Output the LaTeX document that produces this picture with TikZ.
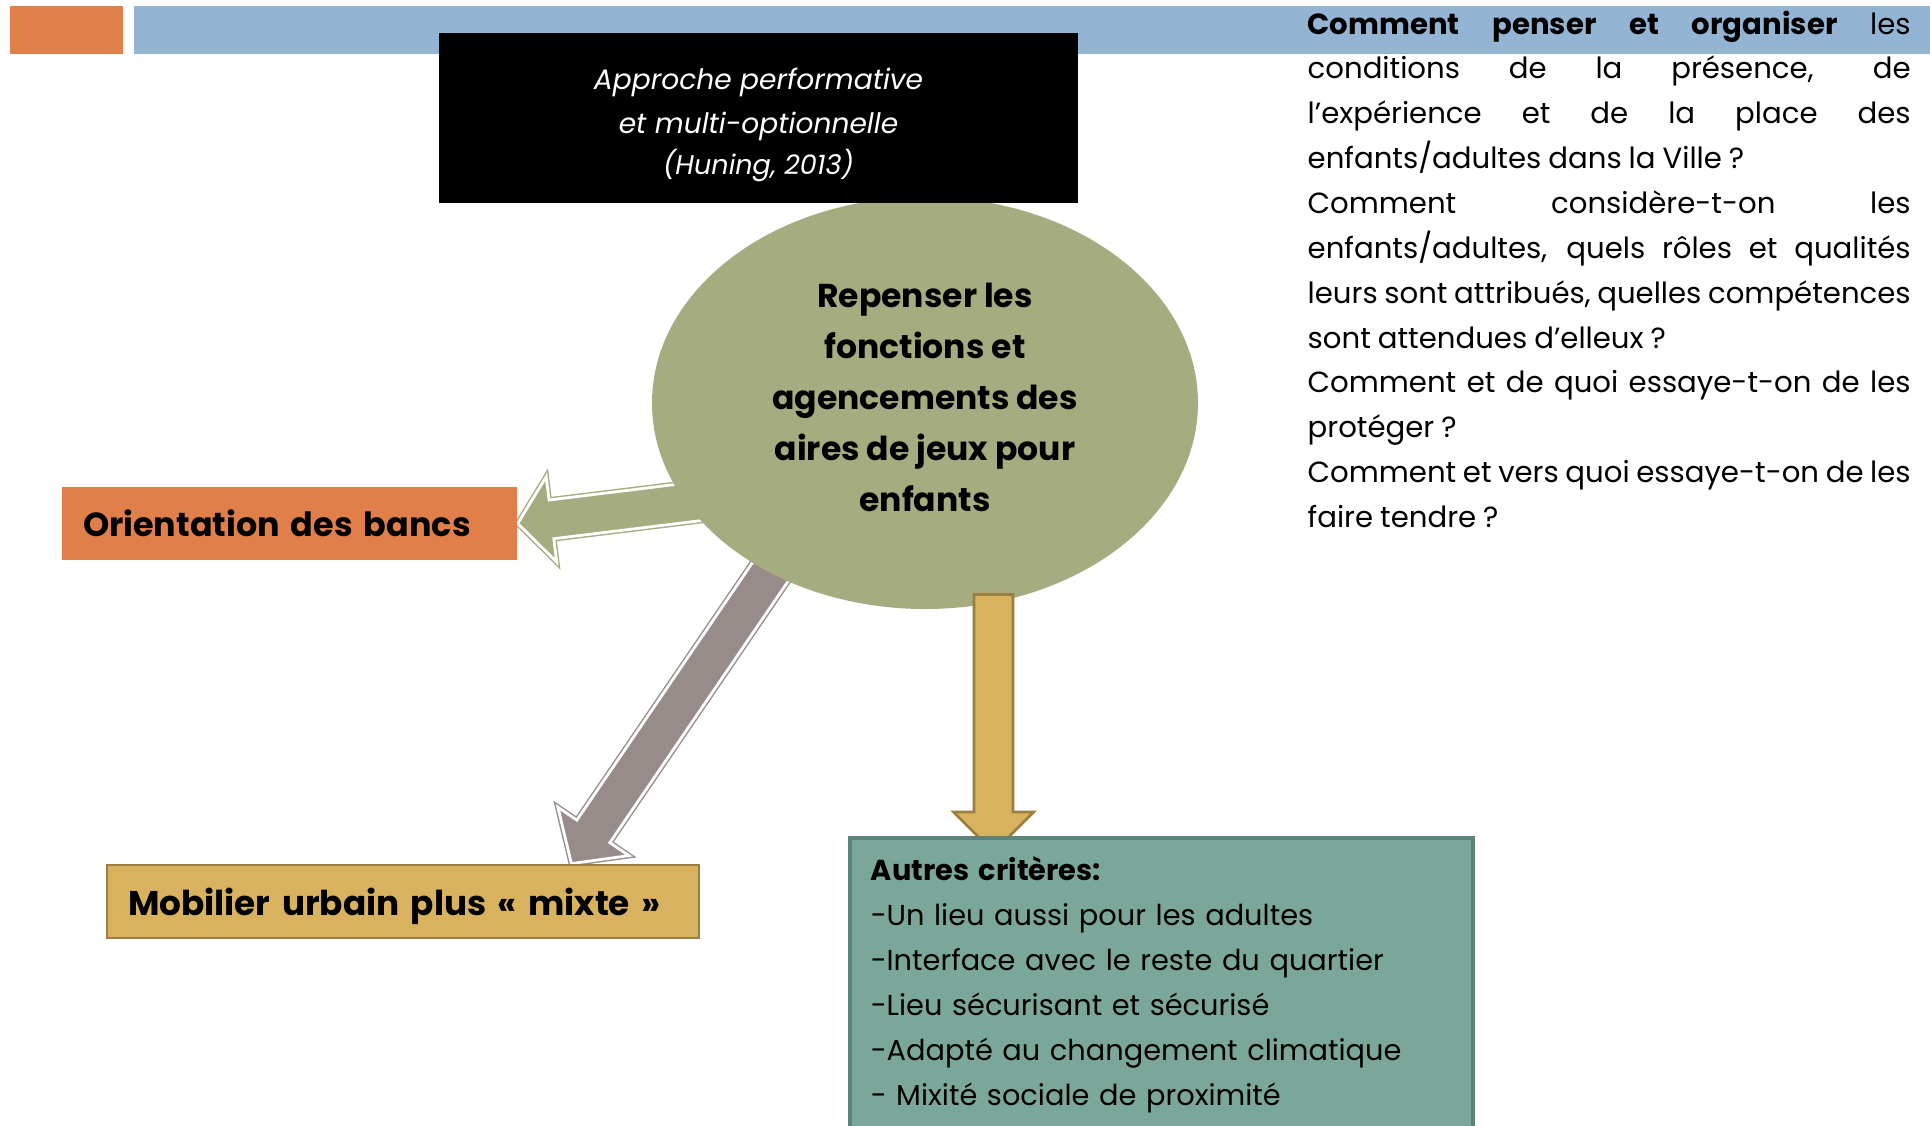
\documentclass[tikz,border=0pt]{standalone}
\usepackage{fontspec}
\setmainfont{Poppins}
\usepackage{xcolor}
\usepackage{tikz}
\usetikzlibrary{shapes.geometric,positioning,calc}

\definecolor{bleuband}{HTML}{94B4D4}
\definecolor{orangeband}{HTML}{E07F4A}
\definecolor{olivefond}{HTML}{A4AC80}
\definecolor{gristaupe}{HTML}{988C8B}
\definecolor{ocre}{HTML}{D8B25E}
\definecolor{ocrefonce}{HTML}{9C7F3E}
\definecolor{sarcelle}{HTML}{7BA79A}
\definecolor{sarcellefonce}{HTML}{5E8479}

\pgfdeclarelayer{background}
\pgfsetlayers{background,main}

% grosse fleche : style, queue, pointe, demi-tige, demi-tete, longueur de tete
\newcommand{\grossefleche}[6]{%
  \coordinate (col) at ($(#3)!#6!(#2)$);
  \filldraw[#1] ($(#2)!#4!90:(#3)$) -- ($(col)!#4!90:(#3)$) -- ($(col)!#5!90:(#3)$) -- (#3)
    -- ($(col)!#5!-90:(#3)$) -- ($(col)!#4!-90:(#3)$) -- ($(#2)!#4!-90:(#3)$) -- cycle;
}

\begin{document}
\begin{tikzpicture}[>=latex]
    \tikzstyle{idee} = [ellipse, fill=olivefond, minimum width=5.46cm, minimum height=4.12cm, inner sep=0pt, align=center, font=\bfseries\fontsize{9.4}{14.5}\selectfont]
    \tikzstyle{titre} = [rectangle, fill=black, text=white, minimum width=6.39cm, minimum height=1.70cm, align=center, font=\itshape\fontsize{8}{12.5}\selectfont]
    \tikzstyle{etiquette} = [rectangle, minimum height=0.73cm, inner xsep=0.21cm, align=left, font=\bfseries\fontsize{9.5}{12}\selectfont]
    \tikzstyle{liste} = [rectangle, anchor=north west, fill=sarcelle, draw=sarcellefonce, line width=1pt, text width=5.81cm, inner xsep=0.21cm, inner ysep=0.19cm, text depth=3.0cm, align=left, font=\fontsize{8.2}{12.8}\selectfont]
    \tikzstyle{questions} = [anchor=north west, text width=6.03cm, inner sep=0pt, align=justify, font=\fontsize{8.3}{12.76}\selectfont]
    \tikzstyle{flecheverte} = [fill=olivefond, draw=olivefond, line width=0.4pt, double=white, double distance=0.8pt, line join=miter]
    \tikzstyle{flechegrise} = [fill=gristaupe, draw=gristaupe, line width=0.4pt, double=white, double distance=0.8pt, line join=miter]
    \tikzstyle{flecheocre} = [fill=ocre, draw=ocrefonce, line width=0.8pt, line join=miter]

    \clip (0,0) rectangle (19.30,-11.25);

    % bandeau du haut
    \fill [orangeband] (0.10,-0.06) rectangle (1.23,-0.54);
    \fill [bleuband] (1.34,-0.06) rectangle (19.30,-0.54);

    \node [idee] (idee) at (9.25,-4.03) {Repenser les\\fonctions et\\agencements des\\aires de jeux pour\\enfants\rule[-3.4pt]{0pt}{0pt}};

    % fleche vers le bas, au-dessus de l'ellipse
    \coordinate (qocre) at ($(idee.center)+(0.685,-1.915)$);
    \coordinate (pocre) at ($(idee.center)+(0.685,-4.49)$);
    \grossefleche{flecheocre}{qocre}{pocre}{0.195cm}{0.40cm}{0.40cm}

    \node [titre] (approche) at (7.585,-1.18) {\rule{0pt}{10pt}Approche performative\\et multi-optionnelle\\[-1pt]{\fontsize{7.7}{12}\selectfont (Huning, 2013)}};

    \node [etiquette, fill=orangeband, text width=4.13cm] (bancs) at (2.895,-5.235) {Orientation des bancs};
    \node [etiquette, fill=ocre, draw=ocrefonce, line width=0.8pt, text width=5.50cm, text height=10pt, text depth=2.1pt, font=\bfseries\fontsize{9.75}{12}\selectfont] (mobilier) at (4.03,-9.015) {Mobilier urbain plus « mixte »};

    \node [liste] (criteres) at (8.48,-8.36) {\textbf{Autres critères:}\\-Un lieu aussi pour les adultes\\-Interface avec le reste du quartier\\-Lieu sécurisant et sécurisé\\-Adapté au changement climatique\\- Mixité sociale de proximité};

    \node [questions] (questions) at (13.07,-0.10) {\tolerance=10000\hyphenpenalty=10000\exhyphenpenalty=10000%
      \spaceskip=0.24em plus 4em minus 0.06em%
      \textbf{Comment penser et organiser} les\linebreak
      conditions de la présence, de\linebreak
      l’expérience et de la place des\linebreak
      enfants/adultes dans la Ville ?\\
      Comment considère-t-on les\linebreak
      enfants/adultes, quels rôles et qualités\linebreak
      leurs~sont~attribués,~quelles~compétences\linebreak
      sont attendues d’elleux ?\\
      Comment~et~de~quoi~essaye-t-on~de~les\linebreak
      protéger ?\\
      Comment~et~vers~quoi~essaye-t-on~de~les\linebreak
      faire tendre ?};

    % fleches sous l'ellipse
    \begin{pgfonlayer}{background}
      \coordinate (qvert) at ($(idee.center)+(-2.0,-0.95)$);
      \grossefleche{flecheverte}{qvert}{bancs.east}{0.195cm}{0.43cm}{0.34cm}
      \coordinate (qgris) at ($(idee.center)+(-1.35,-1.40)$);
      \coordinate (pgris) at ($(mobilier.north east)+(-1.29,0)$);
      \grossefleche{flechegrise}{qgris}{pgris}{0.20cm}{0.43cm}{0.39cm}
    \end{pgfonlayer}
\end{tikzpicture}
\end{document}
